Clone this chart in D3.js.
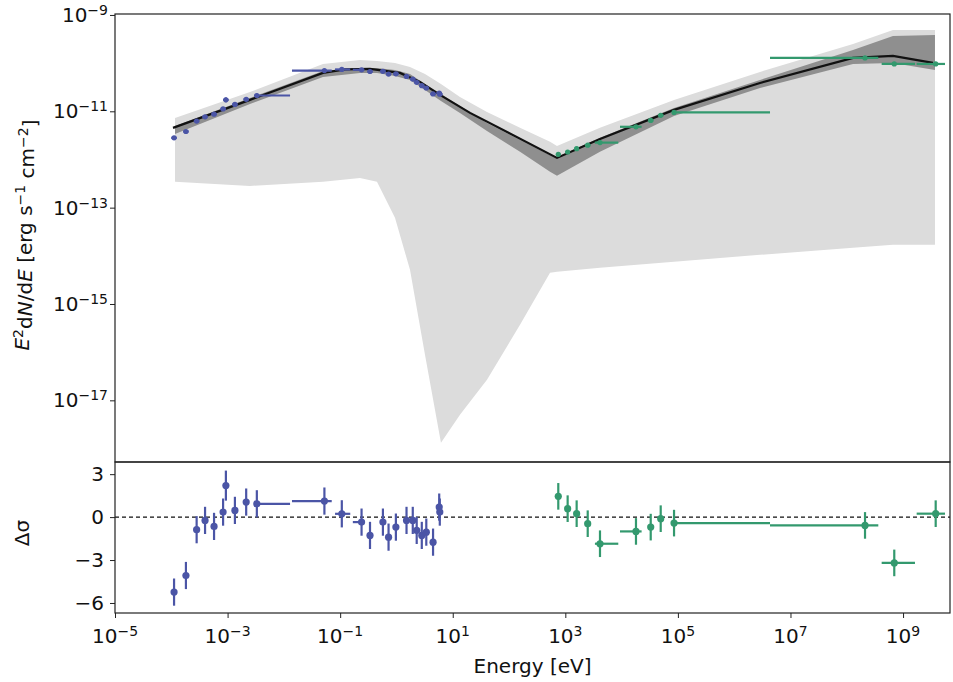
<!DOCTYPE html>
<html><head><meta charset="utf-8">
<script src="https://cdn.jsdelivr.net/npm/d3@7"></script>
<style>body{margin:0;background:#fff;} text{font-family:"DejaVu Sans",sans-serif;fill:#111;}</style>
</head><body><svg id="c" width="953" height="682"></svg>
<script>
// ---------- data ----------
const xTickExps = [-5, -3, -1, 1, 3, 5, 7, 9];
const yTickExps = [-9, -11, -13, -15, -17];
const resTicks = [3, 0, -3, -6];

// model (eV, erg s^-1 cm^-2)
const modelE = [1.072e-4, 2.50e-3, 0.0495, 0.122, 0.339, 1.156, 2.618, 5.94, 20.3, 711, 4130, 85300, 2.877e6, 1.291e8, 6.62e8, 3.404e9];
const modelF = [4.53e-12, 1.726e-11, 6.27e-11, 7.40e-11, 7.59e-11, 6.27e-11, 4.07e-11, 2.19e-11, 9.27e-12, 1.079e-12, 2.67e-12, 1.069e-11, 3.88e-11, 1.282e-10, 1.409e-10, 1.009e-10];

// uncertainty bands
const bandE = [1.164e-4, 2.50e-3, 0.0495, 0.225, 0.451, 0.942, 1.741, 3.214, 6.18, 13.45, 40.6, 156.7, 535, 711, 4130, 85300, 2.877e6, 1.291e8, 6.62e8, 3.69e9];
const lightHi = [7.30e-12, 2.52e-11, 9.62e-11, 1.164e-10, 1.111e-10, 1.009e-10, 8.34e-11, 5.97e-11, 3.70e-11, 1.991e-11, 9.73e-12, 4.53e-12, 2.32e-12, 1.914e-12, 4.53e-12, 1.726e-11, 6.56e-11, 2.50e-10, 4.89e-10, 4.89e-10];
const lightLo = [3.43e-13, 2.83e-13, 3.43e-13, 4.15e-13, 3.43e-13, 6.14e-14, 5.13e-15, 8.83e-17, 1.318e-18, 5.02e-18, 2.67e-17, 3.70e-16, 4.44e-15, 4.66e-15, 5.64e-15, 7.51e-15, 1.050e-14, 1.466e-14, 1.692e-14, 1.692e-14];
const darkHi = [4.98e-12, 1.897e-11, 6.89e-11, 7.94e-11, 7.94e-11, 7.22e-11, 5.97e-11, 3.70e-11, 2.30e-11, 1.294e-11, 5.74e-12, 2.55e-12, 1.245e-12, 1.132e-12, 2.81e-12, 1.178e-11, 4.48e-11, 1.879e-10, 3.66e-10, 3.85e-10];
const darkLo = [3.40e-12, 1.426e-11, 5.18e-11, 6.27e-11, 6.27e-11, 5.42e-11, 4.48e-11, 2.78e-11, 1.644e-11, 9.27e-12, 3.92e-12, 1.439e-12, 5.53e-13, 4.57e-13, 1.439e-12, 8.03e-12, 3.05e-11, 9.62e-11, 1.009e-10, 7.22e-11];

// low-energy (blue) data
const blueE = [1.12e-4, 1.82e-4, 2.82e-4, 3.98e-4, 5.75e-4, 8.32e-4, 9.33e-4, 1.35e-3, 2.14e-3, 3.31e-3, 0.0525, 0.107, 0.24, 0.339, 0.575, 0.724, 0.977, 1.51, 1.95, 2.29, 2.82, 3.39, 4.47, 5.75, 5.89];
const blueF = [2.81e-12, 3.81e-12, 6.27e-12, 7.69e-12, 8.71e-12, 1.12e-11, 1.73e-11, 1.39e-11, 1.77e-11, 2.13e-11, 7.01e-11, 7.40e-11, 7.26e-11, 6.70e-11, 6.76e-11, 5.92e-11, 6.00e-11, 5.30e-11, 4.66e-11, 4.00e-11, 3.41e-11, 3.05e-11, 2.29e-11, 2.40e-11, 2.26e-11];
const blueFerrDex = [0.04, 0.04, 0.04, 0.04, 0.04, 0.04, 0.05, 0.04, 0.04, 0.04, 0.03, 0.03, 0.03, 0.03, 0.03, 0.03, 0.03, 0.03, 0.03, 0.03, 0.03, 0.03, 0.03, 0.04, 0.04];
const blueXloDex = [0.05, 0.05, 0.05, 0.05, 0.05, 0.05, 0.05, 0.05, 0.05, 0.05, 0.576, 0.12, 0.155, 0.05, 0.05, 0.05, 0.05, 0.05, 0.05, 0.05, 0.05, 0.05, 0.05, 0.05, 0.05];
const blueXhiDex = [0.05, 0.05, 0.05, 0.05, 0.05, 0.05, 0.05, 0.05, 0.05, 0.59, 0.13, 0.15, 0.05, 0.05, 0.05, 0.05, 0.05, 0.05, 0.05, 0.05, 0.05, 0.05, 0.05, 0.05, 0.05];
const blueRes = [-5.24, -4.08, -0.88, -0.23, -0.65, 0.35, 2.2, 0.47, 1.05, 0.93, 1.12, 0.23, -0.35, -1.28, -0.35, -1.4, -0.7, -0.23, -0.23, -0.93, -1.28, -1.05, -1.75, 0.7, 0.35];
const blueResErr = [0.95, 0.95, 0.95, 0.95, 0.95, 0.95, 1.05, 0.95, 0.95, 0.95, 0.95, 0.95, 0.95, 0.95, 0.95, 0.95, 0.95, 0.95, 0.95, 0.95, 0.95, 0.95, 0.95, 0.95, 0.95];

// high-energy (green) data
const greenE = [750, 1100, 1590, 2500, 4130, 18000, 32900, 49500, 85400, 2.11e8, 6.98e8, 3.80e9];
const greenF = [1.28e-12, 1.43e-12, 1.68e-12, 1.98e-12, 2.24e-12, 4.77e-12, 6.47e-12, 8.26e-12, 9.48e-12, 1.28e-10, 9.62e-11, 9.62e-11];
const greenFerrDex = [0.04, 0.04, 0.04, 0.04, 0.04, 0.04, 0.04, 0.04, 0.04, 0.03, 0.03, 0.03];
const greenXloDex = [0.04, 0.04, 0.04, 0.05, 0.09, 0.284, 0.05, 0.05, 0.03, 1.688, 0.224, 0.338];
const greenXhiDex = [0.04, 0.04, 0.04, 0.05, 0.325, 0.10, 0.05, 0.05, 1.705, 0.236, 0.368, 0.165];
const greenRes = [1.45, 0.59, 0.24, -0.46, -1.86, -1.0, -0.7, -0.11, -0.42, -0.58, -3.2, 0.24];
const greenResErr = [0.93, 0.93, 0.93, 0.93, 0.93, 0.93, 0.93, 0.93, 0.93, 0.93, 0.93, 0.93];

// ---------- layout ----------
const L = 115, R = 950, T = 14, MID = 462, B = 613;
const BLUE = "#4b55a6", GREEN = "#33996e";
const svg = d3.select("#c");
svg.append("rect").attr("width", 953).attr("height", 682).attr("fill", "#fff");

const x = d3.scaleLog().domain([1e-5, Math.pow(10, 9.834)]).range([L, R]);
const y = d3.scaleLog().domain([Math.pow(10, -18.28), Math.pow(10, -8.98)]).range([MID, T]);
const yr = d3.scaleLinear().domain([-6.7, 3.85]).range([B, MID]);

const defs = svg.append("defs");
defs.append("clipPath").attr("id", "clipTop").append("rect").attr("x", L).attr("y", T).attr("width", R - L).attr("height", MID - T);
defs.append("clipPath").attr("id", "clipBot").append("rect").attr("x", L).attr("y", MID).attr("width", R - L).attr("height", B - MID);

const gTop = svg.append("g").attr("clip-path", "url(#clipTop)");
const gBot = svg.append("g").attr("clip-path", "url(#clipBot)");

const idx = d3.range(bandE.length);
const areaLight = d3.area().x(i => x(bandE[i])).y0(i => y(lightLo[i])).y1(i => y(lightHi[i]));
const areaDark = d3.area().x(i => x(bandE[i])).y0(i => y(darkLo[i])).y1(i => y(darkHi[i]));
gTop.append("path").attr("d", areaLight(idx)).attr("fill", "#dcdcdc");
gTop.append("path").attr("d", areaDark(idx)).attr("fill", "#8f8f8f");

const line = d3.line().x(i => x(modelE[i])).y(i => y(modelF[i]));
gTop.append("path").attr("d", line(d3.range(modelE.length))).attr("fill", "none").attr("stroke", "#111").attr("stroke-width", 2.2);

function drawTop(E, F, fe, xl, xh, color, r) {
  const g = gTop.append("g").attr("stroke", color).attr("fill", color);
  E.forEach((e, i) => {
    g.append("line").attr("x1", x(e / Math.pow(10, xl[i]))).attr("x2", x(e * Math.pow(10, xh[i])))
      .attr("y1", y(F[i])).attr("y2", y(F[i])).attr("stroke-width", 2.2);
    g.append("line").attr("x1", x(e)).attr("x2", x(e))
      .attr("y1", y(F[i] / Math.pow(10, fe[i]))).attr("y2", y(F[i] * Math.pow(10, fe[i]))).attr("stroke-width", 2.2);
    g.append("circle").attr("cx", x(e)).attr("cy", y(F[i])).attr("r", r).attr("stroke", "none");
  });
}
drawTop(blueE, blueF, blueFerrDex, blueXloDex, blueXhiDex, BLUE, 2.6);
drawTop(greenE, greenF, greenFerrDex, greenXloDex, greenXhiDex, GREEN, 2.6);

// residuals
gBot.append("line").attr("x1", L).attr("x2", R).attr("y1", yr(0)).attr("y2", yr(0))
  .attr("stroke", "#111").attr("stroke-width", 1.2).attr("stroke-dasharray", "4,3");
function drawRes(E, res, err, xl, xh, color) {
  const g = gBot.append("g").attr("stroke", color).attr("fill", color);
  E.forEach((e, i) => {
    g.append("line").attr("x1", x(e / Math.pow(10, xl[i]))).attr("x2", x(e * Math.pow(10, xh[i])))
      .attr("y1", yr(res[i])).attr("y2", yr(res[i])).attr("stroke-width", 2.2);
    g.append("line").attr("x1", x(e)).attr("x2", x(e))
      .attr("y1", yr(res[i] - err[i])).attr("y2", yr(res[i] + err[i])).attr("stroke-width", 2.2);
    g.append("circle").attr("cx", x(e)).attr("cy", yr(res[i])).attr("r", 3.6).attr("stroke", "none");
  });
}
drawRes(blueE, blueRes, blueResErr, blueXloDex, blueXhiDex, BLUE);
drawRes(greenE, greenRes, greenResErr, greenXloDex, greenXhiDex, GREEN);

// axes
const FS = 20;
const fmtExp = v => (v < 0 ? "\u2212" + Math.abs(v) : String(v));
function powLabel(g, px, py, exp, anchor) {
  const t = g.append("text").attr("x", px).attr("y", py).attr("text-anchor", anchor).attr("font-size", FS);
  t.append("tspan").text("10");
  t.append("tspan").attr("dy", "-0.5em").attr("font-size", FS * 0.7).text(fmtExp(exp));
}

const gy = svg.append("g").attr("transform", `translate(${L},0)`)
  .call(d3.axisLeft(y).tickValues(yTickExps.map(e => Math.pow(10, e))).tickFormat("").tickSize(5));
const gx = svg.append("g").attr("transform", `translate(0,${B})`)
  .call(d3.axisBottom(x).tickValues(xTickExps.map(e => Math.pow(10, e))).tickFormat("").tickSize(5));
const gr = svg.append("g").attr("transform", `translate(${L},0)`)
  .call(d3.axisLeft(yr).tickValues(resTicks).tickFormat(d => (d < 0 ? "\u2212" + Math.abs(d) : d)).tickSize(5).tickPadding(6));
[gy, gx, gr].forEach(g => { g.select(".domain").remove(); g.selectAll("line").attr("stroke", "#222").attr("stroke-width", 1); });
gr.selectAll("text").attr("font-size", FS).attr("font-family", "DejaVu Sans").attr("fill", "#111");

const lab = svg.append("g");
yTickExps.forEach(e => powLabel(lab, L - 7, y(Math.pow(10, e)) + 7, e, "end"));
xTickExps.forEach(e => powLabel(lab, x(Math.pow(10, e)), B + 30, e, "middle"));

// frames
svg.append("rect").attr("x", L).attr("y", T).attr("width", R - L).attr("height", MID - T).attr("fill", "none").attr("stroke", "#222").attr("stroke-width", 1.2);
svg.append("rect").attr("x", L).attr("y", MID).attr("width", R - L).attr("height", B - MID).attr("fill", "none").attr("stroke", "#222").attr("stroke-width", 1.2);

// axis titles
const yl = svg.append("text").attr("transform", "translate(29,235) rotate(-90)").attr("text-anchor", "middle").attr("font-size", 20);
yl.append("tspan").attr("font-style", "italic").text("E");
yl.append("tspan").attr("dy", "-0.45em").attr("font-size", 14).text("2");
yl.append("tspan").attr("dy", "0.45em").text("d");
yl.append("tspan").attr("font-style", "italic").text("N");
yl.append("tspan").text("/d");
yl.append("tspan").attr("font-style", "italic").text("E");
yl.append("tspan").text(" [erg s");
yl.append("tspan").attr("dy", "-0.45em").attr("font-size", 14).text("\u22121");
yl.append("tspan").attr("dy", "0.45em").text(" cm");
yl.append("tspan").attr("dy", "-0.45em").attr("font-size", 14).text("\u22122");
yl.append("tspan").attr("dy", "0.45em").text("]");

svg.append("text").attr("transform", "translate(29,533) rotate(-90)").attr("text-anchor", "middle").attr("font-size", 20)
  .text("\u0394\u03c3");
svg.append("text").attr("x", (L + R) / 2).attr("y", 673).attr("text-anchor", "middle").attr("font-size", 20).text("Energy [eV]");
</script></body></html>
